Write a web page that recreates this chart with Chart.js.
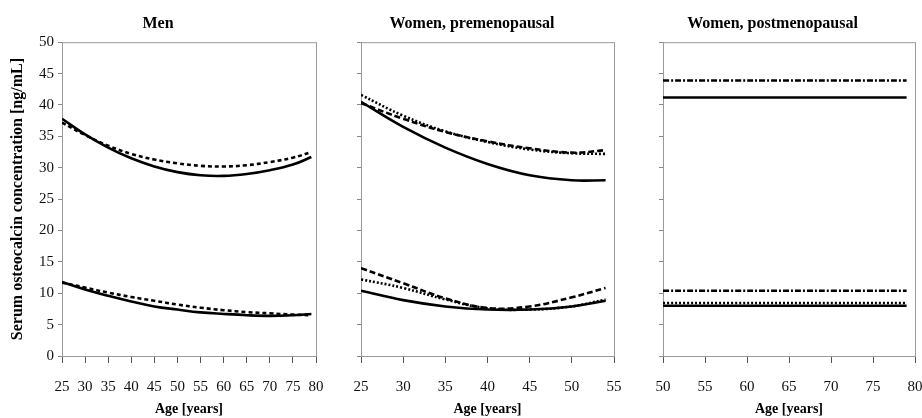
<!DOCTYPE html>
<html>
<head>
<meta charset="utf-8">
<script src="https://cdn.jsdelivr.net/npm/chart.js@4.4.1/dist/chart.umd.min.js"></script>
<style>
body { margin: 0; background: #fff; }
.panel { position: absolute; top: 0; height: 418px; }
</style>
</head>
<body>
<div class="panel" style="left:0;width:330px"><canvas id="men"></canvas></div>
<div class="panel" style="left:330px;width:300px"><canvas id="pre"></canvas></div>
<div class="panel" style="left:630px;width:292px"><canvas id="post"></canvas></div>
<script>
// ages (x) for each panel
const menAges = [25, 30, 35, 40, 45, 50, 55, 60, 65, 70, 75, 79];
const preAges = [25, 30, 35, 40, 45, 50, 54];
const postAges = [50, 79];

// men
const menUpperSolid = [37.8, 35.3, 33.2, 31.5, 30.2, 29.3, 28.8, 28.7, 29.0, 29.6, 30.5, 31.7];
const menUpperDash = [37.2, 35.2, 33.5, 32.2, 31.3, 30.7, 30.3, 30.2, 30.4, 30.9, 31.6, 32.5];
const menLowerSolid = [11.8, 10.6, 9.6, 8.7, 7.9, 7.4, 6.95, 6.7, 6.5, 6.4, 6.5, 6.7];
const menLowerDash = [11.7, 10.9, 10.1, 9.4, 8.8, 8.2, 7.7, 7.3, 7.0, 6.8, 6.6, 6.5];

// women, premenopausal
const preUpperSolid = [40.5, 36.5, 33.2, 30.6, 28.8, 28.0, 28.0];
const preUpperDash = [40.3, 37.8, 35.7, 34.2, 33.1, 32.4, 32.8];
const preUpperDot = [41.6, 38.3, 35.8, 34.1, 32.9, 32.3, 32.2];
const preLowerSolid = [10.4, 8.9, 7.9, 7.4, 7.4, 7.9, 8.8];
const preLowerDash = [14.0, 11.6, 9.2, 7.65, 7.9, 9.35, 10.85];
const preLowerDot = [12.2, 10.85, 9.0, 7.6, 7.4, 7.9, 9.0];

// women, postmenopausal
const postUpperDashDot = [43.9, 43.9];
const postUpperSolid = [41.2, 41.2];
const postLowerDashDot = [10.4, 10.4];
const postLowerDot = [8.45, 8.45];
const postLowerSolid = [8.0, 8.0];

const yTicks = [0, 5, 10, 15, 20, 25, 30, 35, 40, 45, 50];

const serif = "'Liberation Serif', 'DejaVu Serif', serif";
const SOLID = [];
const SHORTDASH = [4, 3];
const DASH = [6, 3];
const DOT = [2, 2];
const DASHDOT = [6, 2, 2, 2];

function line(ages, values, dash) {
    return {
        data: ages.map(function (a, i) { return { x: a, y: values[i] }; }),
        borderColor: '#000',
        borderWidth: 2.6,
        borderDash: dash,
        pointRadius: 0,
        tension: 0.4,
        fill: false
    };
}

const boxPlugin = {
    id: 'box',
    beforeDatasetsDraw(chart) {
        const a = chart.chartArea;
        const ctx = chart.ctx;
        ctx.save();
        ctx.strokeStyle = '#9a9a9a';
        ctx.lineWidth = 1;
        ctx.strokeRect(a.left + 0.5, a.top + 0.5, a.right - a.left, a.bottom - a.top);
        ctx.restore();
    }
};

function makePanel(id, title, xMin, xMax, datasets, leftWidth, rightPad, showY) {
    new Chart(id, {
        type: 'line',
        data: { datasets: datasets },
        plugins: [boxPlugin],
        options: {
            responsive: true,
            maintainAspectRatio: false,
            animation: false,
            layout: { padding: { left: 0, right: rightPad, top: 0, bottom: 0 } },
            plugins: {
                legend: { display: false },
                tooltip: { enabled: false },
                title: {
                    display: true,
                    text: title,
                    color: '#000',
                    font: { family: serif, size: 16, weight: 'bold' },
                    padding: { top: 14, bottom: 9 }
                }
            },
            scales: {
                x: {
                    type: 'linear',
                    min: xMin,
                    max: xMax,
                    afterFit(scale) {
                        scale.height = 62;
                        scale.paddingLeft = 0;
                        scale.paddingRight = 0;
                    },
                    ticks: {
                        stepSize: 5,
                        color: '#111',
                        font: { family: serif, size: 15 },
                        padding: 15,
                        maxRotation: 0
                    },
                    grid: { drawOnChartArea: false, drawTicks: true, tickLength: 7, color: '#555' },
                    border: { color: '#555' },
                    title: {
                        display: true,
                        text: 'Age [years]',
                        color: '#000',
                        font: { family: serif, size: 14, weight: 'bold' },
                        padding: { top: 3, bottom: 0 }
                    }
                },
                y: {
                    min: 0,
                    max: 50,
                    afterFit(scale) { scale.width = leftWidth; },
                    afterBuildTicks(scale) { scale.ticks = yTicks.map(function (v) { return { value: v }; }); },
                    ticks: {
                        display: showY,
                        color: '#111',
                        font: { family: serif, size: 15 },
                        padding: 4
                    },
                    grid: { drawOnChartArea: false, drawTicks: true, tickLength: 4, color: '#888' },
                    border: { color: '#9a9a9a' },
                    title: {
                        display: showY,
                        text: 'Serum osteocalcin concentration [ng/mL]',
                        color: '#000',
                        font: { family: serif, size: 16, weight: 'bold' },
                        padding: { top: 8, bottom: 4 }
                    }
                }
            }
        }
    });
}

makePanel('men', 'Men', 25, 80, [
    line(menAges, menUpperSolid, SOLID),
    line(menAges, menUpperDash, SHORTDASH),
    line(menAges, menLowerSolid, SOLID),
    line(menAges, menLowerDash, SHORTDASH)
], 62, 14, true);

makePanel('pre', 'Women, premenopausal', 25, 55, [
    line(preAges, preUpperSolid, SOLID),
    line(preAges, preUpperDash, DASH),
    line(preAges, preUpperDot, DOT),
    line(preAges, preLowerSolid, SOLID),
    line(preAges, preLowerDash, DASH),
    line(preAges, preLowerDot, DOT)
], 31, 16, false);

makePanel('post', 'Women, postmenopausal', 50, 80, [
    line(postAges, postUpperDashDot, DASHDOT),
    line(postAges, postUpperSolid, SOLID),
    line(postAges, postLowerDashDot, DASHDOT),
    line(postAges, postLowerDot, DOT),
    line(postAges, postLowerSolid, SOLID)
], 33, 7, false);
</script>
</body>
</html>
